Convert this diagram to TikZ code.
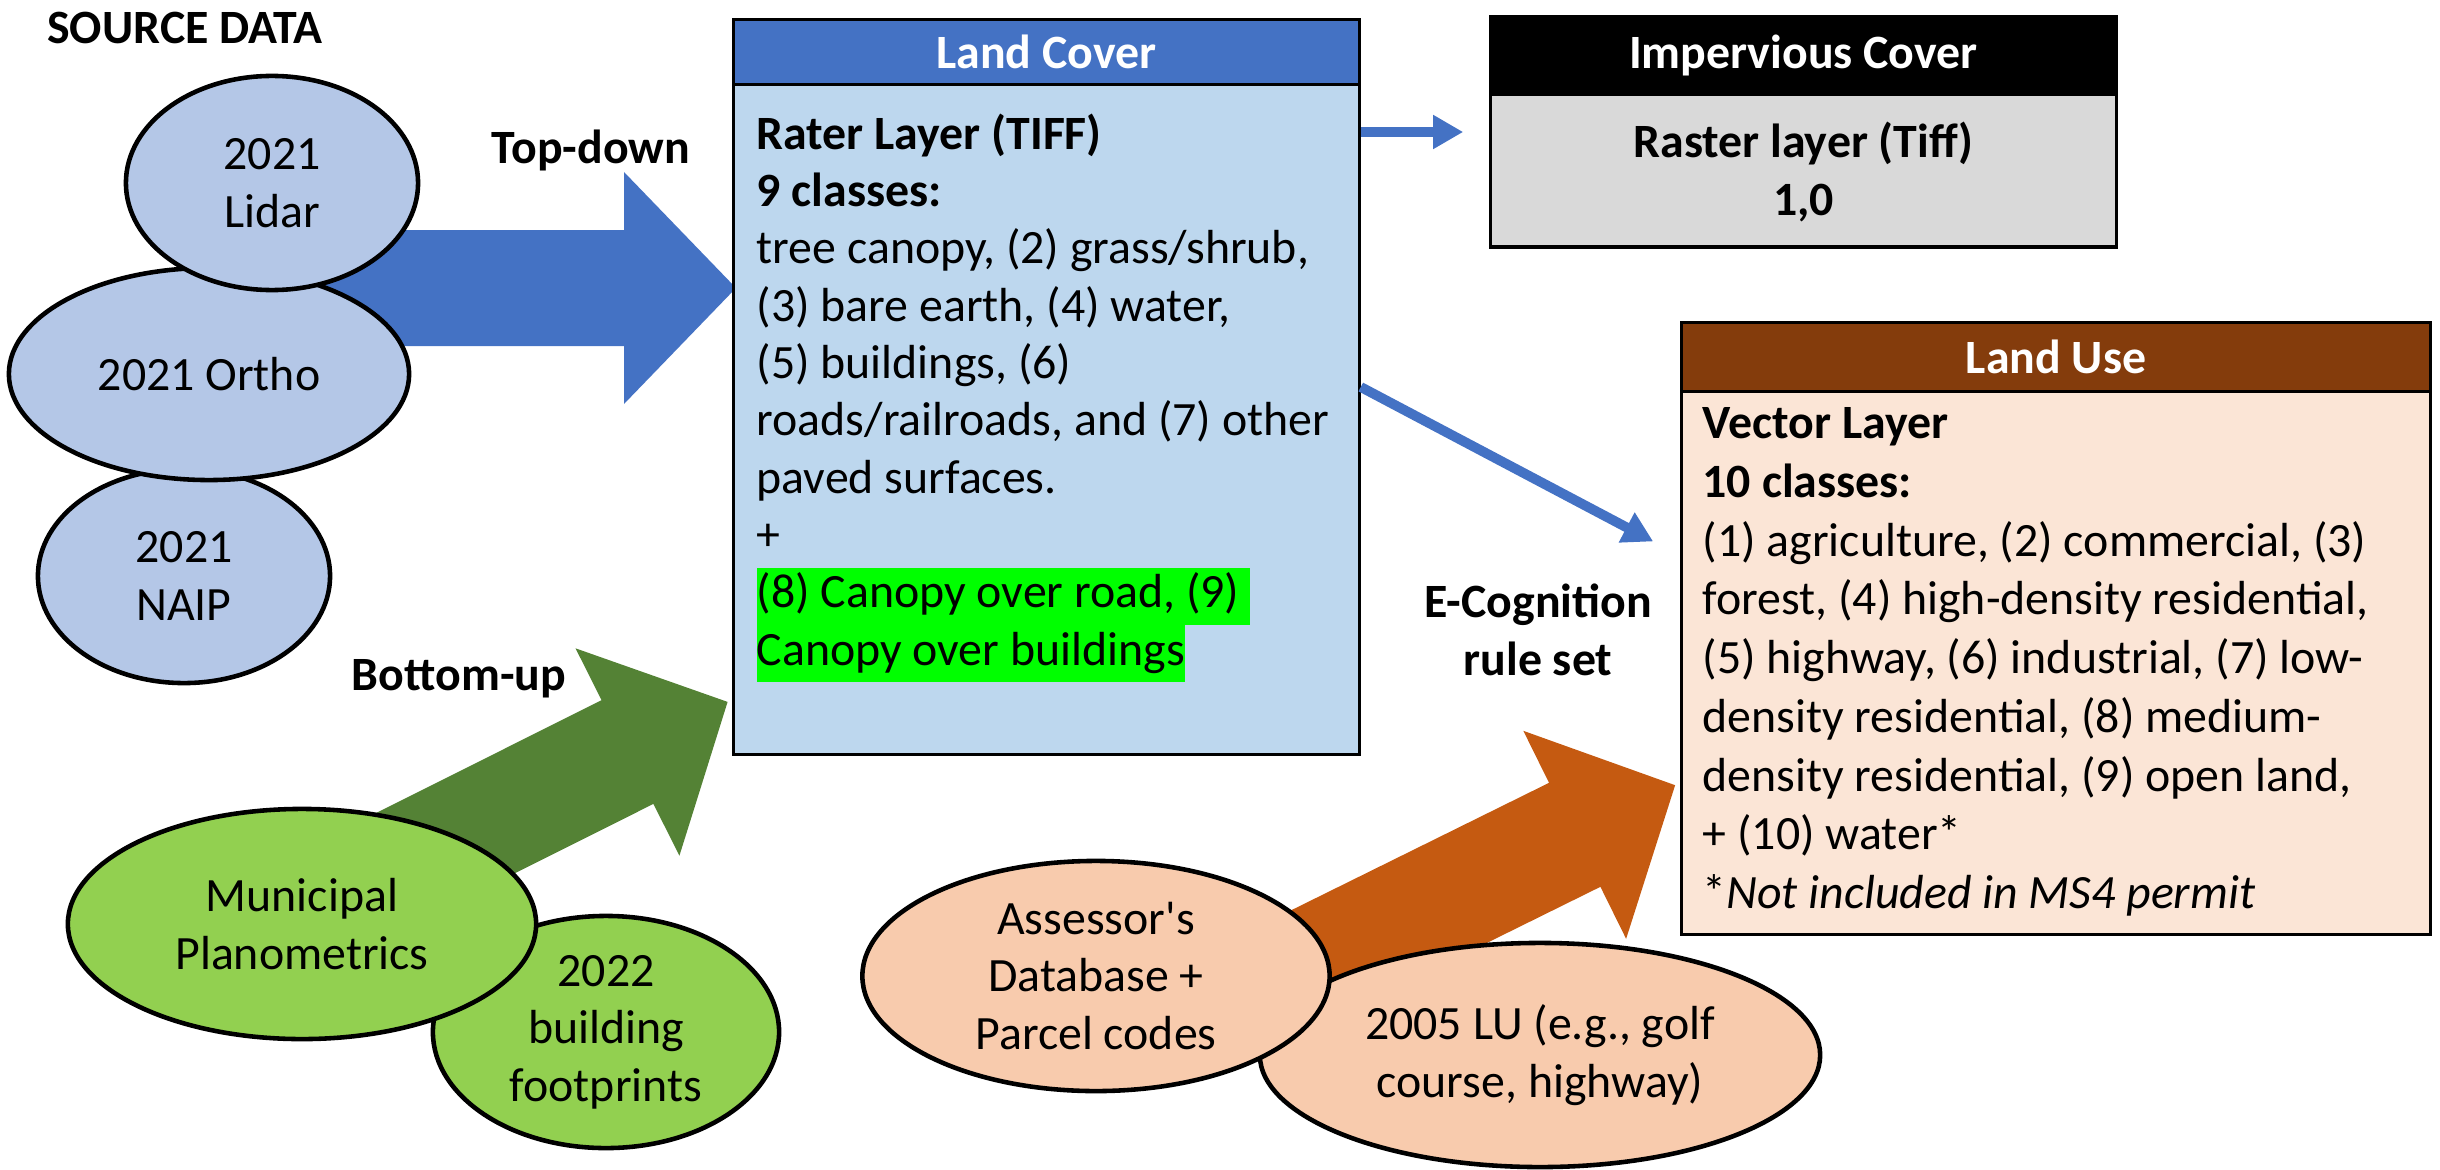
\documentclass[tikz,border=0pt]{standalone}
\usepackage{fontspec}
\setmainfont{Carlito}
\usetikzlibrary{shapes.geometric,arrows.meta,positioning}
\definecolor{lcblue}{HTML}{4472C4}
\definecolor{lcfill}{HTML}{BDD7EE}
\definecolor{srcfill}{HTML}{B4C7E7}
\definecolor{impfill}{HTML}{D9D9D9}
\definecolor{lubrown}{HTML}{843C0C}
\definecolor{lufill}{HTML}{FBE5D6}
\definecolor{grnfill}{HTML}{92D050}
\definecolor{grnarrow}{HTML}{548235}
\definecolor{orgfill}{HTML}{F8CBAD}
\definecolor{orgarrow}{HTML}{C55A11}
\definecolor{hlgreen}{HTML}{00FF00}
\newcommand{\hl}[1]{{\setlength{\fboxsep}{0pt}\colorbox{hlgreen}{\strut #1}}}
\newcommand{\fatarrow}[4]{%
  \fill[#1,shift={#2},rotate=#3] (0,-58) -- (#4-112,-58) -- (#4-112,-116)
    -- (#4,0) -- (#4-112,116) -- (#4-112,58) -- (0,58) -- cycle;}
\begin{document}
\begin{tikzpicture}[x=0.01cm,y=-0.01cm,
  every node/.style={font=\fontsize{13.6}{16.3}\selectfont},
  src/.style={ellipse,draw,line width=1.3pt,inner sep=0pt,align=center},
  box/.style={draw,line width=0.9pt,inner sep=0pt},
  head/.style={draw,line width=0.9pt,inner sep=0pt,anchor=north,text=white,
    font=\fontsize{13.6}{16.3}\selectfont\bfseries},
  body/.style={inner sep=0pt,anchor=north west,align=left},
  lbl/.style={inner sep=0pt,align=center,font=\fontsize{13.6}{16.3}\selectfont\bfseries},
  conn/.style={draw=lcblue,line width=2.8pt,-{Triangle[length=3mm,width=3.2mm]}}]
\useasboundingbox (0,0) rectangle (2440,1170);

\fatarrow{lcblue}{(300,288)}{0}{436}
\fatarrow{grnarrow}{(302,915)}{26.6}{476}
\fatarrow{orgarrow}{(1200,1020)}{26.3}{530}

\node[lbl] (srclbl) at (185,28) {SOURCE DATA};
\node[src,fill=srcfill,minimum width=2.92cm,minimum height=2.14cm] (naip) at (184,576) {2021\\NAIP};
\node[src,fill=srcfill,minimum width=4cm,minimum height=2.12cm] (ortho) at (209,374) {2021 Ortho};
\node[src,fill=srcfill,minimum width=2.92cm,minimum height=2.14cm] (lidar) at (272,183) {2021\\Lidar};
\node[lbl] (topdown) at (591,150) {Top-down};

\node[lbl] (botup) at (459,679) {Bottom-up};
\node[src,fill=grnfill,minimum width=3.46cm,minimum height=2.32cm] (foot) at (606,1032) {2022\\building\\footprints};
\node[src,fill=grnfill,minimum width=4.68cm,minimum height=2.3cm] (muni) at (302,924) {Municipal\\Planometrics};

\node[src,fill=orgfill,minimum width=5.6cm,minimum height=2.24cm] (oldlu) at (1540,1055) {2005 LU (e.g., golf\\course, highway)};
\node[src,fill=orgfill,minimum width=4.67cm,minimum height=2.3cm] (assr) at (1096,976) {Assessor\textquotesingle s\\Database +\\Parcel codes};
\node[lbl] (ecog) at (1538,630) {E-Cognition\\rule set};

\node[box,fill=lcfill,minimum width=6.25cm,minimum height=7.34cm] (lc) at (1046.5,387) {};
\node[head,fill=lcblue,minimum width=6.25cm,minimum height=0.65cm] (lchead) at (lc.north) {Land Cover};
\node[body] (lctext) at (756,113) {\textbf{Rater Layer (TIFF)}\\
  \textbf{9 classes:}\\
  tree canopy, (2) grass/shrub,\\
  (3) bare earth, (4) water,\\
  (5) buildings, (6)\\
  roads/railroads, and (7) other\\
  paved surfaces.\\
  +\\
  \hl{(8) Canopy over road, (9)\ }\\
  \hl{Canopy over buildings}};

\node[box,fill=impfill,minimum width=6.25cm,minimum height=2.3cm] (imp) at (1803.5,132) {};
\node[head,fill=black,minimum width=6.25cm,minimum height=0.77cm] (imphead) at (imp.north) {Impervious Cover};
\node[lbl] (imptext) at (1803.5,172) {Raster layer (Tiff)\\1,0};

\node[box,fill=lufill,minimum width=7.48cm,minimum height=6.11cm] (lu) at (2056,628.5) {};
\node[head,fill=lubrown,minimum width=7.48cm,minimum height=0.69cm] (luhead) at (lu.north) {Land Use};
\node[body,font=\fontsize{13.6}{16.7}\selectfont] (lutext) at (1702,407) {\textbf{Vector Layer}\\
  \textbf{10 classes:}\\
  (1) agriculture, (2) commercial, (3)\\
  forest, (4) high-density residential,\\
  (5) highway, (6) industrial, (7) low-\\
  density residential, (8) medium-\\
  density residential, (9) open land,\\
  + (10) water*\\
  *\textit{Not included in MS4 permit}};

\coordinate (luin) at ([xshift=-0.27cm,yshift=0.87cm]lu.west);
\draw[conn] (lc.east |- imp.west) -- ([xshift=-0.26cm]imp.west);
\draw[conn] (lc.east) -- (luin);
\end{tikzpicture}
\end{document}
